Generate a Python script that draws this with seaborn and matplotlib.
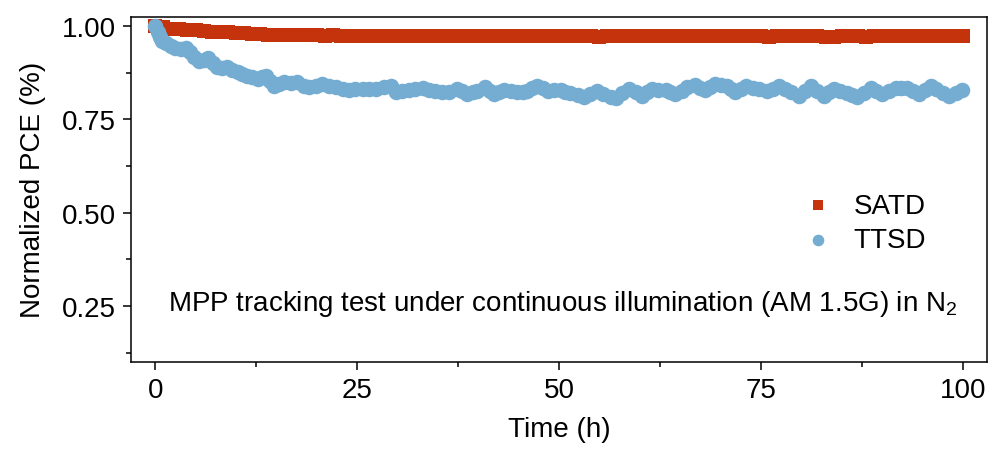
import matplotlib
matplotlib.use("Agg")
import matplotlib.pyplot as plt
from matplotlib.ticker import MultipleLocator, FormatStrFormatter
import pandas as pd
import seaborn as sns

# SATD: normalized PCE vs. time (h)
satd_time = [0, 1, 2, 3, 4, 5, 6, 7, 8, 9, 10, 11, 12, 13, 14, 15, 16, 17, 18, 19,
             20, 21, 22, 23, 24, 25, 26, 27, 28, 29, 30, 31, 32, 33, 34, 35, 36, 37, 38, 39,
             40, 41, 42, 43, 44, 45, 46, 47, 48, 49, 50, 51, 52, 53, 54, 55, 56, 57, 58, 59,
             60, 61, 62, 63, 64, 65, 66, 67, 68, 69, 70, 71, 72, 73, 74, 75, 76, 77, 78, 79,
             80, 81, 82, 83, 84, 85, 86, 87, 88, 89, 90, 91, 92, 93, 94, 95, 96, 97, 98, 99, 100]
satd_pce = [1.000, 0.996, 0.993, 0.991, 0.989, 0.988, 0.986, 0.985, 0.984, 0.983,
            0.981, 0.980, 0.979, 0.978, 0.977, 0.977, 0.976, 0.976, 0.975, 0.975,
            0.975, 0.974, 0.975, 0.974, 0.974, 0.974, 0.973, 0.974, 0.974, 0.973,
            0.973, 0.974, 0.973, 0.973, 0.974, 0.973, 0.973, 0.972, 0.973, 0.973,
            0.972, 0.973, 0.972, 0.973, 0.973, 0.972, 0.973, 0.974, 0.973, 0.972,
            0.972, 0.972, 0.973, 0.972, 0.972, 0.971, 0.972, 0.972, 0.972, 0.973,
            0.972, 0.972, 0.973, 0.973, 0.972, 0.973, 0.972, 0.972, 0.973, 0.973,
            0.972, 0.972, 0.972, 0.973, 0.972, 0.972, 0.971, 0.972, 0.972, 0.973,
            0.972, 0.972, 0.972, 0.971, 0.971, 0.972, 0.972, 0.972, 0.971, 0.972,
            0.972, 0.972, 0.973, 0.972, 0.972, 0.972, 0.972, 0.972, 0.972, 0.972, 0.972]

# TTSD: normalized PCE vs. time (h)
ttsd_time = [0, 0.3, 0.6, 0.9, 1.3, 1.9, 2.5, 3.2, 3.8, 4.3, 4.8, 5.4, 6.0, 6.5, 7.1, 7.7,
             8.3, 8.9, 9.5, 10.2, 10.8, 11.4, 12.0, 12.7, 13.2, 13.7, 14.2, 14.7, 15.3, 16.0,
             16.8, 17.6, 18.4, 19.1, 19.9, 20.7, 21.5, 22.4, 23.2, 24.0, 24.8, 25.7, 26.5,
             27.3, 28.3, 29.2, 29.8, 30.6, 31.4, 32.2, 33.1, 33.9, 34.7, 35.5, 36.4, 37.4,
             38.0, 38.6, 39.3, 39.9, 40.9, 41.5, 42.0, 42.6, 43.2, 44.0, 44.8, 45.5, 46.1,
             46.7, 47.3, 48.0, 48.6, 49.4, 50.2, 50.8, 51.4, 52.3, 53.1, 53.9, 54.7, 55.5,
             56.4, 57.0, 57.8, 58.7, 59.5, 60.3, 60.9, 61.5, 62.3, 63.2, 63.8, 64.4, 65.2,
             65.9, 66.9, 67.5, 68.1, 68.7, 69.3, 70.0, 70.8, 71.3, 71.8, 72.5, 73.1, 74.0,
             74.8, 75.8, 76.5, 77.2, 78.0, 78.7, 79.7, 80.4, 81.2, 82.0, 82.8, 83.4, 84.0,
             84.8, 85.7, 86.3, 86.9, 87.8, 88.6, 89.3, 90.0, 90.8, 91.7, 92.4, 93.1, 93.8,
             94.6, 95.3, 96.0, 96.7, 97.5, 98.3, 99.1, 99.9]
ttsd_pce = [1.000, 0.985, 0.970, 0.960, 0.955, 0.947, 0.942, 0.938, 0.942, 0.930, 0.918,
            0.907, 0.910, 0.914, 0.900, 0.889, 0.888, 0.889, 0.882, 0.876, 0.871, 0.867,
            0.862, 0.858, 0.862, 0.867, 0.852, 0.840, 0.845, 0.849, 0.848, 0.849, 0.840,
            0.836, 0.840, 0.844, 0.840, 0.836, 0.832, 0.828, 0.830, 0.831, 0.830, 0.831,
            0.836, 0.838, 0.822, 0.826, 0.828, 0.830, 0.833, 0.829, 0.825, 0.823, 0.822,
            0.831, 0.825, 0.818, 0.822, 0.827, 0.837, 0.826, 0.818, 0.823, 0.828, 0.825,
            0.822, 0.824, 0.825, 0.833, 0.840, 0.833, 0.827, 0.828, 0.828, 0.824, 0.820,
            0.814, 0.809, 0.818, 0.827, 0.818, 0.809, 0.806, 0.820, 0.831, 0.822, 0.813,
            0.822, 0.831, 0.829, 0.828, 0.823, 0.818, 0.827, 0.836, 0.843, 0.835, 0.828,
            0.837, 0.845, 0.842, 0.838, 0.830, 0.822, 0.831, 0.840, 0.835, 0.831, 0.827,
            0.832, 0.838, 0.830, 0.822, 0.813, 0.826, 0.840, 0.826, 0.813, 0.822, 0.831,
            0.826, 0.820, 0.815, 0.809, 0.821, 0.833, 0.826, 0.818, 0.825, 0.833, 0.833,
            0.833, 0.826, 0.818, 0.828, 0.840, 0.830, 0.820, 0.813, 0.820, 0.828]

x_ticks = [0, 25, 50, 75, 100]
y_ticks = [0.25, 0.50, 0.75, 1.00]

sns.set_theme(style="ticks")
plt.rcParams["font.family"] = ["Liberation Sans", "DejaVu Sans"]
plt.rcParams["mathtext.fontset"] = "custom"
plt.rcParams["mathtext.rm"] = "Liberation Sans"
plt.rcParams["mathtext.it"] = "Liberation Sans:italic"
plt.rcParams["text.color"] = "black"
plt.rcParams["axes.labelcolor"] = "black"

FS = 20
RED = "#C4330C"
BLUE = "#74ADD1"

df_satd = pd.DataFrame({"time": satd_time, "pce": satd_pce})
df_ttsd = pd.DataFrame({"time": ttsd_time, "pce": ttsd_pce})

fig, ax = plt.subplots(figsize=(9.92, 4.52), dpi=100)
fig.subplots_adjust(left=0.132, right=0.995, top=0.961, bottom=0.197)

sns.scatterplot(data=df_satd, x="time", y="pce", ax=ax, marker="s", s=95,
                color=RED, linewidth=0, label="SATD", zorder=2)
sns.scatterplot(data=df_ttsd, x="time", y="pce", ax=ax, marker="o", s=125,
                color=BLUE, linewidth=0, label="TTSD", zorder=3)

ax.set_xlim(-3, 103)
ax.set_ylim(0.10, 1.025)
ax.set_xticks(x_ticks)
ax.set_yticks(y_ticks)
ax.xaxis.set_minor_locator(MultipleLocator(12.5))
ax.yaxis.set_minor_locator(MultipleLocator(0.125))
ax.yaxis.set_major_formatter(FormatStrFormatter("%.2f"))

for side in ["top", "right", "bottom", "left"]:
    ax.spines[side].set_visible(True)
    ax.spines[side].set_color("black")
    ax.spines[side].set_linewidth(1.1)

ax.tick_params(axis="both", which="major", direction="out", length=6, width=1.1,
               labelsize=FS, color="black", labelcolor="black", pad=5)
ax.tick_params(axis="both", which="minor", direction="out", length=3.5, width=1.1,
               color="black")

ax.set_xlabel("Time (h)", fontsize=FS, labelpad=9, color="black")
ax.set_ylabel("Normalized PCE (%)", fontsize=FS, labelpad=11, color="black")

ax.text(50.5, 0.258, "MPP tracking test under continuous illumination (AM 1.5G) in N$_2$",
        fontsize=FS, ha="center", va="center", color="black")

ax.legend(loc="upper left", bbox_to_anchor=(0.786, 0.49), frameon=False,
          fontsize=FS, handlelength=1.0, handletextpad=0.8, labelspacing=0.3,
          borderpad=0, borderaxespad=0, markerscale=0.75)

fig.savefig("out.png", dpi=100)
